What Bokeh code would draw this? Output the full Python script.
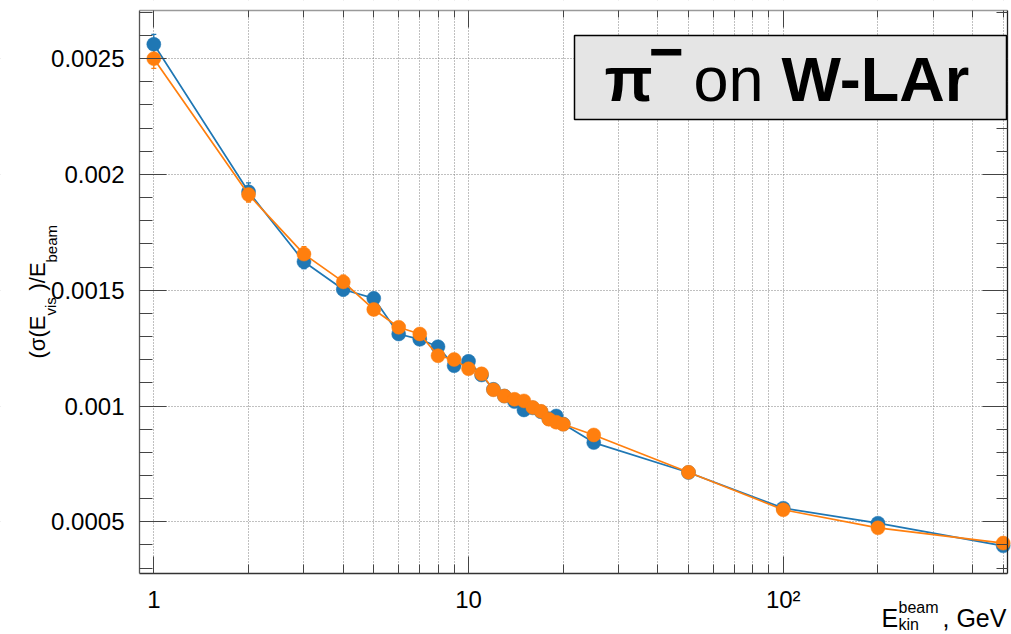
import math

from bokeh.plotting import figure
from bokeh.models import (BoxAnnotation, ColumnDataSource, FixedTicker, Grid, Label,
                          LinearAxis, LogAxis, Range1d, TeeHead, Whisker)
from bokeh.embed import file_html
from bokeh.resources import INLINE

# Beam kinetic energy, GeV
energy = [1, 2, 3, 4, 5, 6, 7, 8, 9, 10, 11, 12, 13, 14, 15, 16, 17, 18, 19, 20,
          25, 50, 100, 200, 500]

# sigma(E_vis)/E_beam for the two samples
res_blue = [0.002562, 0.001925, 0.001623, 0.001503, 0.001465, 0.001311, 0.001288,
            0.001256, 0.001174, 0.001193, 0.001134, 0.001072, 0.001043, 0.001019,
            0.000983, 0.000992, 0.000975, 0.000945, 0.000957, 0.000922, 0.000842,
            0.000713, 0.000559, 0.000494, 0.000396]
res_orange = [0.002500, 0.001913, 0.001656, 0.001536, 0.001417, 0.001340, 0.001311,
              0.001217, 0.001201, 0.001161, 0.001139, 0.001070, 0.001043, 0.001029,
              0.001022, 0.000994, 0.000977, 0.000943, 0.000930, 0.000921, 0.000875,
              0.000714, 0.000552, 0.000474, 0.000408]

# statistical uncertainties
err_blue = [0.000043, 0.000039, 0.000030, 0.000027, 0.000025, 0.000022, 0.000021,
            0.000020, 0.000019, 0.000018, 0.000017, 0.000016, 0.000016, 0.000015,
            0.000015, 0.000014, 0.000014, 0.000013, 0.000013, 0.000013, 0.000012,
            0.000009, 0.000007, 0.000005, 0.000004]
err_orange = [0.000042, 0.000032, 0.000032, 0.000029, 0.000025, 0.000022, 0.000021,
              0.000020, 0.000019, 0.000018, 0.000017, 0.000016, 0.000016, 0.000015,
              0.000015, 0.000014, 0.000014, 0.000013, 0.000013, 0.000013, 0.000012,
              0.000009, 0.000007, 0.000005, 0.000004]

# axis ticks
x_major = [1, 10, 100]
x_labels = ["1", "10", "10\u00b2"]
x_minor = [2, 3, 4, 5, 6, 7, 8, 9, 20, 30, 40, 50, 60, 70, 80, 90, 200, 300, 400, 500]
y_major = [0.0005, 0.001, 0.0015, 0.002, 0.0025]
y_labels = ["0.0005", "0.001", "0.0015", "0.002", "0.0025"]
y_minor = [0.0003, 0.0004, 0.0006, 0.0007, 0.0008, 0.0009, 0.0011, 0.0012, 0.0013,
           0.0014, 0.0016, 0.0017, 0.0018, 0.0019, 0.0021, 0.0022, 0.0023, 0.0024,
           0.0026, 0.0027]

BLUE = "#1f77b4"
ORANGE = "#ff7f0e"
FONT = "Liberation Sans"

# canvas, and the pad (axes box) inside it, in page pixels
W, H = 1011, 634
PAD_L, PAD_R, PAD_T, PAD_B = 139, 1007, 10, 573
# axes box limits in data units
X0, X1 = 0.9006, 516.0
Y0, Y1 = 0.0002767, 0.002708


def data_x(px):
    lx0, lx1 = math.log10(X0), math.log10(X1)
    return 10 ** (lx0 + (px - PAD_L) / (PAD_R - PAD_L) * (lx1 - lx0))


def data_y(py):
    return Y0 + (PAD_B - py) / (PAD_B - PAD_T) * (Y1 - Y0)


# the whole canvas is the plotting area; the axes are pinned to the box edges
p = figure(width=W, height=H, x_axis_type="log",
           x_range=Range1d(data_x(0), data_x(W)), y_range=Range1d(data_y(H), data_y(0)),
           x_axis_location=None, y_axis_location=None,
           output_backend="svg", toolbar_location=None, min_border=0)
p.outline_line_color = None
p.background_fill_color = "white"
p.border_fill_color = "white"
# drop the default grids; our own ones follow the fixed tickers
p.center = [r for r in p.center if not isinstance(r, Grid)]

xticker = FixedTicker(ticks=x_major, minor_ticks=x_minor)
yticker = FixedTicker(ticks=y_major, minor_ticks=y_minor)


def style_axis(ax, major_len, minor_len, line_color, show_labels):
    ax.axis_line_color = line_color
    ax.axis_line_width = 1.3
    ax.major_tick_line_color = "#444444"
    ax.minor_tick_line_color = "#444444"
    ax.major_tick_in = major_len
    ax.major_tick_out = 0
    ax.minor_tick_in = minor_len
    ax.minor_tick_out = 0
    ax.major_label_text_font = FONT
    ax.major_label_text_font_size = "24px"
    ax.major_label_text_color = "black" if show_labels else None


bottom = LogAxis(ticker=xticker, fixed_location=Y0, bounds=(X0, X1),
                 major_label_overrides=dict(zip(x_major, x_labels)),
                 major_label_standoff=12)
style_axis(bottom, 17, 9, "#333333", True)
p.add_layout(bottom, "below")

left = LinearAxis(ticker=yticker, fixed_location=X0, bounds=(Y0, Y1),
                  major_label_overrides=dict(zip(y_major, y_labels)),
                  major_label_standoff=15)
style_axis(left, 27, 13, "#555555", True)
p.add_layout(left, "left")

top = LogAxis(ticker=xticker, fixed_location=Y1, bounds=(X0, X1))
style_axis(top, 17, 7, "#9a9a9a", False)
p.add_layout(top, "above")

right = LinearAxis(ticker=yticker, fixed_location=X1, bounds=(Y0, Y1))
style_axis(right, 25, 11, "#222222", False)
p.add_layout(right, "right")

# dotted grid: every x tick (decades and sub-decades), y majors only
xgrid = Grid(dimension=0, ticker=xticker, grid_line_color="#808080", grid_line_dash="1 2",
             minor_grid_line_color="#808080", minor_grid_line_dash="1 2")
ygrid = Grid(dimension=1, ticker=yticker, grid_line_color="#808080", grid_line_dash="1 2")
p.add_layout(xgrid)
p.add_layout(ygrid)

# keep the grid inside the axes box (masks reach well past the canvas edges)
full_l, full_r, full_t, full_b = data_x(-60), data_x(W + 60), data_y(-60), data_y(H + 60)
for l, r, t, b in ((full_l, full_r, full_t, Y1), (full_l, full_r, Y0, full_b),
                   (full_l, X0, full_t, full_b), (X1, full_r, full_t, full_b)):
    p.add_layout(BoxAnnotation(left=l, right=r, top=t, bottom=b, level="underlay",
                               fill_color="white", fill_alpha=1.0, line_color=None))

# data series
for res, err, color in ((res_blue, err_blue, BLUE), (res_orange, err_orange, ORANGE)):
    src = ColumnDataSource(dict(
        e=energy, r=res,
        lo=[r - d for r, d in zip(res, err)],
        hi=[r + d for r, d in zip(res, err)],
    ))
    p.add_layout(Whisker(base="e", lower="lo", upper="hi", source=src, dimension="height",
                         line_color=color, line_width=1.3,
                         lower_head=TeeHead(size=5, line_color=color, line_width=1.3),
                         upper_head=TeeHead(size=5, line_color=color, line_width=1.3)))
    p.line("e", "r", source=src, line_color=color, line_width=1.7)
    p.scatter("e", "r", source=src, marker="circle", size=14,
              fill_color=color, line_color=color, line_width=0.5)

# labels are anchored on the middle of their em box: shift from the baseline
MID = 0.3465


def label(px, base, text, size, style="normal", angle=0.0):
    if angle:
        x, y = data_x(base - MID * size), data_y(px)
    else:
        x, y = data_x(px), data_y(base - MID * size)
    p.add_layout(Label(x=x, y=y, text=text, text_font=FONT, text_font_size=f"{size}px",
                       text_font_style=style, text_color="black",
                       text_align="left", text_baseline="alphabetic", angle=angle))


# title box
p.add_layout(BoxAnnotation(left=data_x(574), right=data_x(1006),
                           top=data_y(35), bottom=data_y(119),
                           fill_color="#e5e5e5", fill_alpha=1.0,
                           line_color="black", line_width=1.5, line_alpha=1.0))
label(604, 100, "\u03c0", 63, "bold")
label(648, 72, "\u2212", 60, "bold")
label(693, 100, "on", 63)
label(781, 100, "W-LAr", 63, "bold")

# x axis title: E_kin^beam, GeV
label(881, 626, "E", 25)
label(898, 613, "beam", 16)
label(898, 630, "kin", 16)
label(942, 626, ", GeV", 25)

# y axis title: (sigma(E_vis)/E_beam, reading upwards
up = math.pi / 2
label(358, 45, "(\u03c3(E", 22, angle=up)
label(315, 55, "vis", 15, angle=up)
label(290, 45, ")/E", 22, angle=up)
label(262, 56, "beam", 15, angle=up)

open("out.html", "w").write(file_html(p, INLINE))
